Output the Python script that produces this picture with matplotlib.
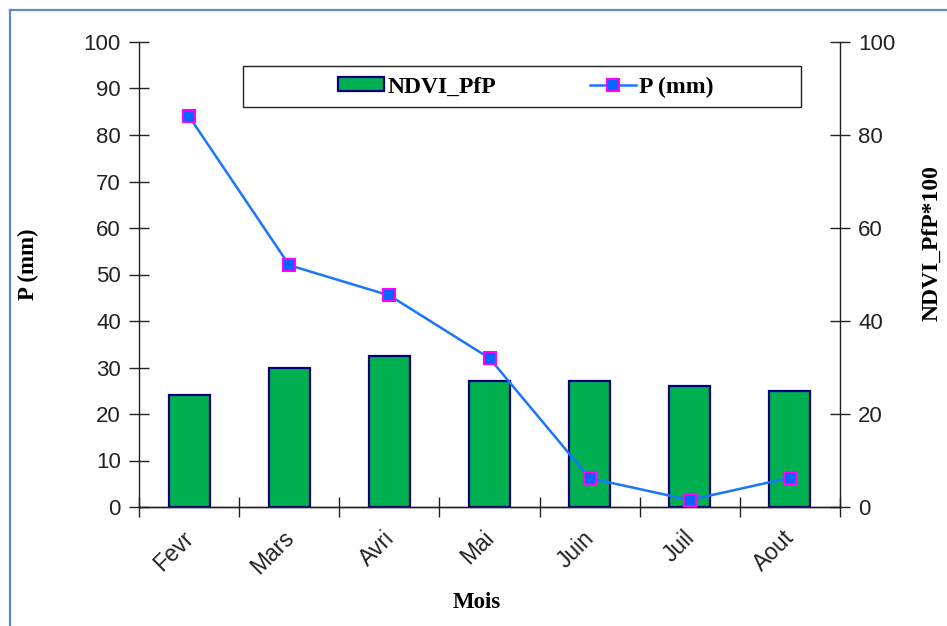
import matplotlib.pyplot as plt
from matplotlib.patches import Rectangle
from matplotlib.lines import Line2D
from matplotlib.transforms import ScaledTranslation

# donnees
mois = ["Fevr", "Mars", "Avri", "Mai", "Juin", "Juil", "Aout"]
ndvi_pfp = [24, 30, 32.5, 27, 27, 26, 25]
pluie = [84, 52, 45.5, 32, 6.2, 1.5, 6.3]

serif = ["Liberation Serif", "DejaVu Serif"]
sans = ["Liberation Sans", "DejaVu Sans"]

fig = plt.figure(figsize=(9.47, 6.26), dpi=100)
ax = fig.add_axes([139 / 947, 1 - 507 / 626, 701 / 947, 465 / 626])
ax2 = ax.twinx()

x = list(range(len(mois)))
ax2.bar(x, ndvi_pfp, width=0.41, color="#00B050", edgecolor="#000080",
        linewidth=1.6, label="NDVI_PfP", zorder=2)
ax.plot(x, pluie, color="#1A75FF", linewidth=1.8, marker="s", markersize=8.5,
        markerfacecolor="#0066FF", markeredgecolor="#FF00FF",
        markeredgewidth=1.5, label="P (mm)", zorder=3)
ax.set_zorder(ax2.get_zorder() + 1)
ax.patch.set_visible(False)

for a in (ax, ax2):
    a.set_xlim(-0.5, len(mois) - 0.5)
    a.set_ylim(0, 100)
    a.spines["top"].set_visible(False)
    for s in a.spines.values():
        s.set_color("#222222")
        s.set_linewidth(1.0)

ax.set_yticks(range(0, 101, 10))
ax2.set_yticks(range(0, 101, 20))
ax.tick_params(axis="y", direction="inout", length=14, width=1,
               labelsize=16, colors="#222222", pad=6)
ax2.tick_params(axis="y", direction="inout", length=14, width=1,
                labelsize=16, colors="#222222", pad=6)
ax.spines["right"].set_visible(False)
ax2.spines["left"].set_visible(False)
for lab in ax.get_yticklabels() + ax2.get_yticklabels():
    lab.set_fontfamily(sans)

# ticks entre les categories, etiquettes au centre
ax.set_xticks(x)
ax.set_xticklabels(mois, rotation=45, ha="right", rotation_mode="anchor",
                   fontsize=16.5, fontfamily=sans, color="#222222")
ax.tick_params(axis="x", which="major", length=0, pad=14)
ax.set_xticks([i + 0.5 for i in range(-1, len(mois))], minor=True)
ax.tick_params(axis="x", which="minor", direction="inout", length=14,
               width=1, colors="#222222")
shift = ScaledTranslation(-7 / 100, 0, fig.dpi_scale_trans)
for lab in ax.get_xticklabels():
    lab.set_transform(lab.get_transform() + shift)

fig.text(28 / 947, 1 - 264 / 626, "P (mm)", rotation=90, ha="center",
         va="center", fontsize=16.5, fontweight="bold", fontfamily=serif)
fig.text(932 / 947, 1 - 243 / 626, "NDVI_PfP*100", rotation=90, ha="center",
         va="center", fontsize=17, fontweight="bold", fontfamily=serif)
fig.text(477 / 947, 1 - 603 / 626, "Mois", ha="center", va="center",
         fontsize=16.5, fontweight="bold", fontfamily=serif)

# legende
fig.add_artist(Rectangle((243 / 947, 1 - 107 / 626), 558 / 947, 41 / 626,
                         transform=fig.transFigure, fill=False,
                         edgecolor="#222222", linewidth=1.0))
handles = [Rectangle((0, 0), 1, 1, facecolor="#00B050", edgecolor="#000080",
                     linewidth=1.6),
           Line2D([], [], color="#1A75FF", linewidth=1.8, marker="s",
                  markersize=8.5, markerfacecolor="#0066FF",
                  markeredgecolor="#FF00FF", markeredgewidth=1.5)]
fig.legend(handles, ["NDVI_PfP", "P (mm)"], ncol=2, frameon=False,
           loc="center", bbox_to_anchor=(526 / 947, 1 - 87 / 626),
           prop={"family": serif, "weight": "bold", "size": 17},
           handlelength=1.95, handletextpad=0.12, columnspacing=4.0,
           handleheight=0.5)

# cadre bleu exterieur
fig.add_artist(Line2D([10 / 947, 10 / 947], [0, 1 - 10 / 626],
                      transform=fig.transFigure, color="#5B8BC9",
                      linewidth=1.6))
fig.add_artist(Line2D([10 / 947, 1], [1 - 10 / 626, 1 - 10 / 626],
                      transform=fig.transFigure, color="#5B8BC9",
                      linewidth=1.6))

fig.savefig("out.png", dpi=100)
